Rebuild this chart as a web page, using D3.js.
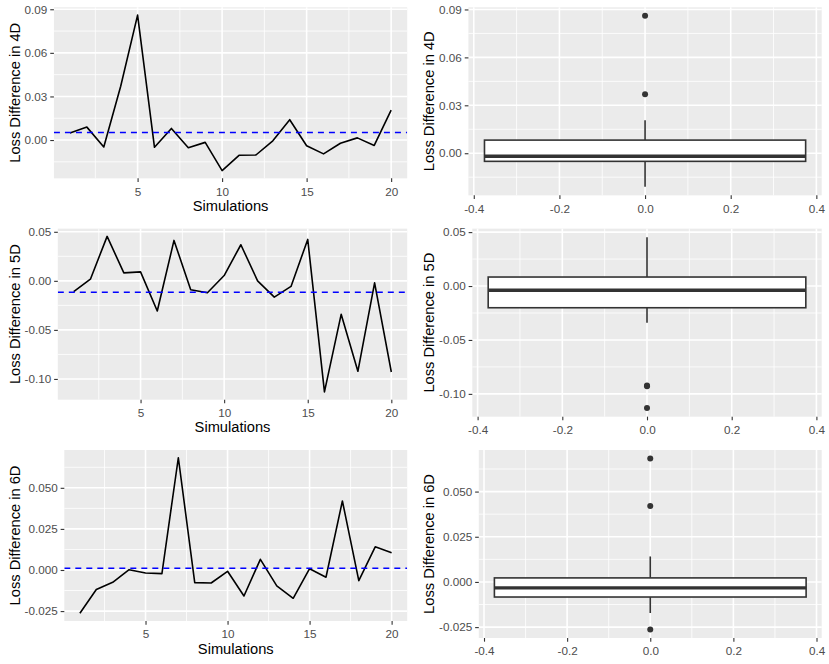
<!DOCTYPE html>
<html>
<head>
<meta charset="utf-8">
<script src="https://cdn.jsdelivr.net/npm/d3@7"></script>
<style>
  body { margin: 0; background: #fff; }
  svg { display: block; font-family: "Liberation Sans", Arial, Helvetica, sans-serif; }
</style>
</head>
<body>
<svg id="chart" width="829" height="664"></svg>
<script>
// simulation index and loss differences
var simulations = [1, 2, 3, 4, 5, 6, 7, 8, 9, 10, 11, 12, 13, 14, 15, 16, 17, 18, 19, 20];

var loss4D = [0.0048, 0.0089, -0.0048, 0.0370, 0.0860, -0.0050, 0.0080, -0.0053, -0.0016, -0.0210,
              -0.0105, -0.0103, -0.0005, 0.0140, -0.0039, -0.0095, -0.0022, 0.0015, -0.0037, 0.0206];
var loss5D = [-0.0111, 0.0017, 0.0453, 0.0081, 0.0091, -0.0307, 0.0412, -0.0091, -0.0122, 0.0054,
              0.0368, 0.0000, -0.0166, -0.0057, 0.0422, -0.1132, -0.0341, -0.0922, -0.0020, -0.0929];
var loss6D = [-0.0263, -0.0119, -0.0075, 0.0002, -0.0018, -0.0022, 0.0683, -0.0077, -0.0079, -0.0008,
              -0.0158, 0.0065, -0.0097, -0.0172, 0.0008, -0.0044, 0.0420, -0.0065, 0.0141, 0.0105];

var dimLabels = ['4D', '5D', '6D'];

var yTicks4D = [0.00, 0.03, 0.06, 0.09];
var yTicks5D = [-0.10, -0.05, 0.00, 0.05];
var yTicks6D = [-0.025, 0.000, 0.025, 0.050];
var yDigits = [2, 2, 3];

var simTicks = [5, 10, 15, 20];
var simMinor = [2.5, 7.5, 12.5, 17.5];
var boxTicks = [-0.4, -0.2, 0.0, 0.2, 0.4];
var boxMinor = [-0.3, -0.1, 0.1, 0.3];

var rows = [
    { values: loss4D, ticks: yTicks4D },
    { values: loss5D, ticks: yTicks5D },
    { values: loss6D, ticks: yTicks6D }
];

var W = 829, H = 664;
var cellW = W / 2, cellH = H / 3;
var pad = 7.3;          // plot margin (5.5pt)
var tickLen = 3.67;
var tickFont = 11.7, titleFont = 14.67;
var textGrey = '#4D4D4D', tickGrey = '#333333';

var svg = d3.select('#chart');

// I measure tick label widths so the panel left edge moves like ggplot's does
var measure = function (text) {
    var t = svg.append('text').attr('font-size', tickFont).text(text);
    var w = t.node().getComputedTextLength();
    t.remove();
    return w;
};

var expand = function (ext, mult) {
    var d = (ext[1] - ext[0]) * mult;
    return [ext[0] - d, ext[1] + d];
};

var minorBreaks = function (ticks, domain) {
    var step = ticks[1] - ticks[0];
    var out = [];
    for (var i = -1; i < ticks.length; i++) {
        var m = ticks[0] + step * (i + 0.5);
        if (m > domain[0] && m < domain[1]) out.push(m);
    }
    return out;
};

var boxStats = function (values) {
    var s = values.slice().sort(d3.ascending);
    var q1 = d3.quantile(s, 0.25), med = d3.quantile(s, 0.5), q3 = d3.quantile(s, 0.75);
    var iqr = q3 - q1;
    var inside = s.filter(function (v) { return v >= q1 - 1.5 * iqr && v <= q3 + 1.5 * iqr; });
    return {
        q1: q1, med: med, q3: q3,
        lo: d3.min(inside), hi: d3.max(inside),
        out: s.filter(function (v) { return v < q1 - 1.5 * iqr || v > q3 + 1.5 * iqr; })
    };
};

var clipId = 0;

var drawPanel = function (opts) {
    var g = svg.append('g');
    var x = opts.x, y = opts.y;
    var left = x.range()[0], right = x.range()[1];
    var bottom = y.range()[0], top = y.range()[1];

    g.append('rect')
        .attr('x', left).attr('y', top)
        .attr('width', right - left).attr('height', bottom - top)
        .attr('fill', '#EBEBEB');

    var grid = g.append('g').attr('stroke', '#fff');
    opts.yMinor.forEach(function (v) {
        grid.append('line').attr('x1', left).attr('x2', right)
            .attr('y1', y(v)).attr('y2', y(v)).attr('stroke-width', 0.8);
    });
    opts.xMinor.forEach(function (v) {
        grid.append('line').attr('y1', top).attr('y2', bottom)
            .attr('x1', x(v)).attr('x2', x(v)).attr('stroke-width', 0.8);
    });
    opts.yTicks.forEach(function (v) {
        grid.append('line').attr('x1', left).attr('x2', right)
            .attr('y1', y(v)).attr('y2', y(v)).attr('stroke-width', 1.6);
    });
    opts.xTicks.forEach(function (v) {
        grid.append('line').attr('y1', top).attr('y2', bottom)
            .attr('x1', x(v)).attr('x2', x(v)).attr('stroke-width', 1.6);
    });

    var id = 'clip' + (clipId++);
    g.append('clipPath').attr('id', id).append('rect')
        .attr('x', left).attr('y', top)
        .attr('width', right - left).attr('height', bottom - top);

    var marks = g.append('g').attr('clip-path', 'url(#' + id + ')');
    opts.marks(marks);

    var yAxis = g.append('g')
        .attr('transform', 'translate(' + left + ',0)')
        .call(d3.axisLeft(y).tickValues(opts.yTicks)
            .tickFormat(function (d) { return d.toFixed(opts.yDigits); })
            .tickSize(tickLen).tickSizeOuter(0).tickPadding(2.93));

    var xAxis = g.append('g')
        .attr('transform', 'translate(0,' + bottom + ')')
        .call(d3.axisBottom(x).tickValues(opts.xTicks)
            .tickFormat(opts.xFormat)
            .tickSize(tickLen).tickSizeOuter(0).tickPadding(5.3));

    [yAxis, xAxis].forEach(function (a) {
        a.select('.domain').remove();
        a.selectAll('line').attr('stroke', tickGrey).attr('stroke-width', 1.1);
        a.selectAll('text').attr('fill', textGrey).attr('font-size', tickFont)
            .attr('font-family', null);
    });

    g.append('text')
        .attr('transform', 'translate(' + (opts.cellX + pad + 12.2) + ',' + ((top + bottom) / 2) + ') rotate(-90)')
        .attr('text-anchor', 'middle')
        .attr('font-size', titleFont)
        .attr('fill', '#000')
        .text(opts.yTitle);

    if (opts.xTitle) {
        g.append('text')
            .attr('x', (left + right) / 2)
            .attr('y', bottom + 32.7)
            .attr('text-anchor', 'middle')
            .attr('font-size', titleFont)
            .attr('fill', '#000')
            .text(opts.xTitle);
    }
};

rows.forEach(function (row, r) {
    var y0 = r * cellH;
    var values = row.values;
    var yDomain = expand(d3.extent(values), 0.05);
    var yMinor = minorBreaks(row.ticks, yDomain);
    var labelW = d3.max(row.ticks, function (t) { return measure(t.toFixed(yDigits[r])); });
    var leftOffset = pad + 13.6 + 3.67 + labelW + 2.93 + tickLen;
    var title = 'Loss Difference in ' + dimLabels[r];
    var top = y0 + pad;

    // line chart, left column
    var xLine = d3.scaleLinear()
        .domain(expand(d3.extent(simulations), 0.05))
        .range([leftOffset, cellW - pad]);
    var yLine = d3.scaleLinear().domain(yDomain).range([y0 + cellH - 43, top]);
    var meanValue = d3.mean(values);

    drawPanel({
        cellX: 0, x: xLine, y: yLine,
        xTicks: simTicks, xMinor: simMinor, xFormat: d3.format('d'),
        yTicks: row.ticks, yMinor: yMinor, yDigits: yDigits[r],
        yTitle: title, xTitle: 'Simulations',
        marks: function (m) {
            var line = d3.line()
                .x(function (d, i) { return xLine(simulations[i]); })
                .y(function (d) { return yLine(d); });
            m.append('path').datum(values)
                .attr('d', line)
                .attr('fill', 'none')
                .attr('stroke', '#000')
                .attr('stroke-width', 1.6)
                .attr('stroke-linejoin', 'round');
            m.append('line')
                .attr('x1', xLine.range()[0]).attr('x2', xLine.range()[1])
                .attr('y1', yLine(meanValue)).attr('y2', yLine(meanValue))
                .attr('stroke', '#0000FF')
                .attr('stroke-width', 1.5)
                .attr('stroke-dasharray', '6,5');
        }
    });

    // box plot, right column
    var stats = boxStats(values);
    var xBox = d3.scaleLinear()
        .domain(expand([-0.375, 0.375], 0.05))
        .range([cellW + leftOffset, W - pad]);
    var yBox = d3.scaleLinear().domain(yDomain).range([y0 + cellH - 26, top]);

    drawPanel({
        cellX: cellW, x: xBox, y: yBox,
        xTicks: boxTicks, xMinor: boxMinor, xFormat: function (d) { return d.toFixed(1); },
        yTicks: row.ticks, yMinor: yMinor, yDigits: yDigits[r],
        yTitle: title, xTitle: null,
        marks: function (m) {
            var b = m.append('g').attr('stroke', tickGrey).attr('stroke-width', 1.6);
            b.append('line')
                .attr('x1', xBox(0)).attr('x2', xBox(0))
                .attr('y1', yBox(stats.q3)).attr('y2', yBox(stats.hi));
            b.append('line')
                .attr('x1', xBox(0)).attr('x2', xBox(0))
                .attr('y1', yBox(stats.q1)).attr('y2', yBox(stats.lo));
            b.append('rect')
                .attr('x', xBox(-0.375)).attr('width', xBox(0.375) - xBox(-0.375))
                .attr('y', yBox(stats.q3)).attr('height', yBox(stats.q1) - yBox(stats.q3))
                .attr('fill', '#fff');
            b.append('line')
                .attr('x1', xBox(-0.375)).attr('x2', xBox(0.375))
                .attr('y1', yBox(stats.med)).attr('y2', yBox(stats.med))
                .attr('stroke-width', 3.4);
            m.selectAll('circle.outlier').data(stats.out).enter()
                .append('circle')
                .attr('class', 'outlier')
                .attr('cx', xBox(0))
                .attr('cy', function (d) { return yBox(d); })
                .attr('r', 3)
                .attr('fill', tickGrey);
        }
    });
});
</script>
</body>
</html>
